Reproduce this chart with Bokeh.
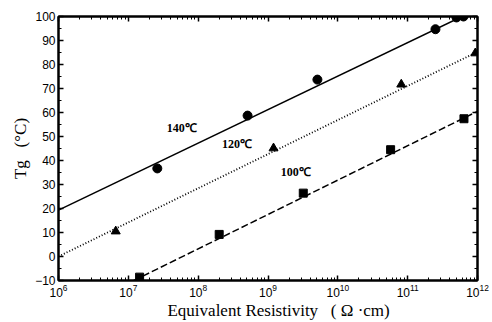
from bokeh.plotting import figure
from bokeh.models import (LogAxis, LinearAxis, SingleIntervalTicker, LogTicker,
                          Range1d, Label, CustomJSTickFormatter)
from bokeh.embed import file_html
from bokeh.resources import INLINE

# ---- data ----
x140 = [2.6e7, 5.1e8, 5.1e9, 2.5e11, 5.0e11, 6.3e11]
y140 = [36.7, 58.7, 73.7, 94.7, 99.6, 100.0]
x120 = [6.6e6, 1.2e9, 8.1e10, 9.3e11]
y120 = [10.5, 45.1, 71.7, 84.7]
x100 = [1.45e7, 2.0e8, 3.2e9, 5.7e10, 6.4e11]
y100 = [-8.6, 9.2, 26.4, 44.5, 57.4]

fit140_x = [1e6, 6.0e11]
fit140_y = [19.3, 100.0]
fit120_x = [1e6, 1e12]
fit120_y = [0.0, 85.3]
fit100_x = [1.2e7, 1e12]
fit100_y = [-10.0, 60.5]

series_labels = ["140℃", "120℃", "100℃"]
label_x = [5.8e7, 3.6e8, 2.5e9]
label_y = [53.7, 46.7, 35.4]

NB = "\u00a0"

p = figure(width=492, height=322, x_axis_type="log",
           x_range=Range1d(1e6, 1e12), y_range=Range1d(-10, 100),
           output_backend="svg", toolbar_location=None,
           min_border_left=58, min_border_right=15,
           min_border_top=16, min_border_bottom=40)
p.background_fill_color = "white"
p.border_fill_color = "white"
p.grid.visible = False
p.outline_line_color = "black"
p.outline_line_width = 2

def style_axis(ax, labels=True):
    ax.axis_line_width = 2
    ax.axis_line_color = "black"
    ax.major_tick_in = 5
    ax.major_tick_out = 0
    ax.minor_tick_in = 3
    ax.minor_tick_out = 0
    ax.major_tick_line_width = 1.5
    ax.minor_tick_line_width = 1
    ax.major_label_text_font = "Liberation Sans"
    ax.major_label_text_font_size = "12px"
    ax.major_label_text_color = "black"
    ax.major_label_standoff = 3
    if not labels:
        ax.formatter = CustomJSTickFormatter(code="return ' '")
        ax.major_label_standoff = 0
        ax.major_label_text_font_size = "1px"

xa = p.xaxis[0]
style_axis(xa)
xa.ticker = LogTicker(num_minor_ticks=10)
xa.axis_label = NB * 5 + "Equivalent Resistivity" + NB * 3 + "(" + NB + "Ω" + NB + "·cm)"
xa.axis_label_text_font = "Liberation Serif"
xa.axis_label_text_font_style = "normal"
xa.axis_label_text_font_size = "17px"
xa.axis_label_text_color = "black"
xa.axis_label_standoff = 1

ya = p.yaxis[0]
style_axis(ya)
ya.ticker = SingleIntervalTicker(interval=10, num_minor_ticks=2)
ya.axis_label = "Tg" + NB * 3 + "(°C)"
ya.axis_label_text_font = "Liberation Serif"
ya.axis_label_text_font_style = "normal"
ya.axis_label_text_font_size = "17px"
ya.axis_label_text_color = "black"
ya.axis_label_standoff = 2

top = LogAxis(ticker=LogTicker(num_minor_ticks=10))
style_axis(top, labels=False)
p.add_layout(top, "above")
right = LinearAxis(ticker=SingleIntervalTicker(interval=10, num_minor_ticks=2))
style_axis(right, labels=False)
p.add_layout(right, "right")

# fit lines
p.line(fit140_x, fit140_y, line_color="black", line_width=1.5)
p.line(fit120_x, fit120_y, line_color="black", line_width=1.8, line_dash="1 2")
p.line(fit100_x, fit100_y, line_color="black", line_width=1.5, line_dash="7 3")

# markers
p.scatter(x140, y140, marker="circle", size=9, color="black")
p.scatter(x120, y120, marker="triangle", size=9, color="black")
p.scatter(x100, y100, marker="square", size=8, color="black")

for t, lx, ly in zip(series_labels, label_x, label_y):
    p.add_layout(Label(x=lx, y=ly, text=t, text_font="Liberation Serif",
                       text_font_style="bold", text_font_size="12px",
                       text_align="center", text_baseline="middle",
                       text_color="black"))

open("out.html", "w").write(file_html(p, INLINE))
